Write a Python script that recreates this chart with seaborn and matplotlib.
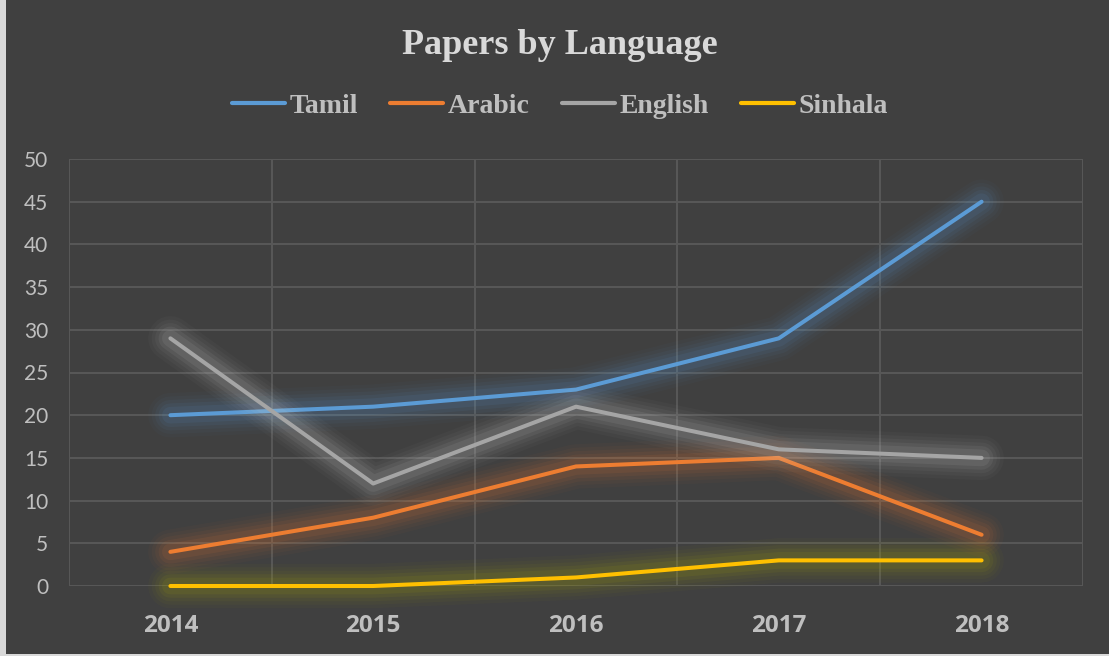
import matplotlib
matplotlib.use("Agg")
import matplotlib.pyplot as plt
import matplotlib.patheffects as pe
from matplotlib.patches import Rectangle
import pandas as pd
import seaborn as sns

years = [2014, 2015, 2016, 2017, 2018]
tamil = [20, 21, 23, 29, 45]
arabic = [4, 8, 14, 15, 6]
english = [29, 12, 21, 16, 15]
sinhala = [0, 0, 1, 3, 3]

languages = ["Tamil", "Arabic", "English", "Sinhala"]
colors = ["#5B9BD5", "#ED7D31", "#A5A5A5", "#FFC000"]
glow_colors = ["#5B9BD5", "#ED7D31", "#D0D0D0", "#B5B000"]

BG = "#404040"
GRID = "#575757"
TEXT = "#D9D9D9"

df = pd.DataFrame({
    "year": years * 4,
    "papers": tamil + arabic + english + sinhala,
    "language": [lang for lang in languages for _ in years],
})

sns.set_theme(style="dark")
plt.rcParams["font.family"] = ["Lato", "DejaVu Sans"]

fig = plt.figure(figsize=(11.09, 6.56), dpi=100)
fig.patch.set_facecolor(BG)
ax = fig.add_axes([69 / 1109, 70 / 656, 1014 / 1109, 427 / 656])
ax.set_facecolor(BG)

sns.lineplot(data=df, x="year", y="papers", hue="language", hue_order=languages,
             palette=colors, linewidth=2.9, ax=ax, legend=False, sort=False)

# soft glow behind every line
for line, gc in zip(ax.get_lines(), glow_colors):
    line.set_solid_capstyle("round")
    line.set_solid_joinstyle("round")
    line.set_clip_on(False)
    line.set_path_effects([
        pe.Stroke(linewidth=32, foreground=gc, alpha=0.03),
        pe.Stroke(linewidth=27, foreground=gc, alpha=0.04),
        pe.Stroke(linewidth=22, foreground=gc, alpha=0.05),
        pe.Stroke(linewidth=17, foreground=gc, alpha=0.07),
        pe.Stroke(linewidth=12, foreground=gc, alpha=0.09),
        pe.Normal(),
    ])

ax.set_xlim(2013.5, 2018.5)
ax.set_ylim(0, 50)
ax.set_yticks(range(0, 51, 5))
ax.set_xticks(years)
ax.set_xticklabels([str(y) for y in years], fontweight="bold", family="Open Sans")
ax.set_xticks([y - 0.5 for y in years] + [2018.5], minor=True)
ax.grid(False)
ax.grid(True, axis="y", which="major", color=GRID, linewidth=1.5)
ax.grid(True, axis="x", which="minor", color=GRID, linewidth=1.5)
ax.set_axisbelow(True)
for s in ax.spines.values():
    s.set_visible(False)

ax.tick_params(axis="y", which="both", length=0, pad=15, labelsize=15, labelcolor="#BFBFBF")
ax.tick_params(axis="x", which="both", length=0, pad=20, labelsize=17.5, labelcolor="#BFBFBF")
ax.set_xlabel("")
ax.set_ylabel("")

fig.text(0.505, 0.93, "Papers by Language", ha="center", va="center",
         fontsize=26, fontweight="bold", color=TEXT, family="Liberation Serif")

handles = [plt.Line2D([0], [0], color=c, linewidth=3, solid_capstyle="round") for c in colors]
fig.legend(handles, languages, loc="center", bbox_to_anchor=(0.505, 0.838), ncol=4,
           frameon=False, handlelength=1.9, handletextpad=0.18, columnspacing=1.15,
           prop={"family": "Liberation Serif", "weight": "bold", "size": 20},
           labelcolor="#BFBFBF")

# light frame strip on the left and bottom edges
fig.patches.append(Rectangle((0, 0), 6 / 1109, 1, transform=fig.transFigure,
                             facecolor="#D9D9D9", edgecolor="none"))
fig.patches.append(Rectangle((0, 0), 1, 2 / 656, transform=fig.transFigure,
                             facecolor="#D9D9D9", edgecolor="none"))

fig.savefig("out.png", dpi=100, facecolor=BG)
